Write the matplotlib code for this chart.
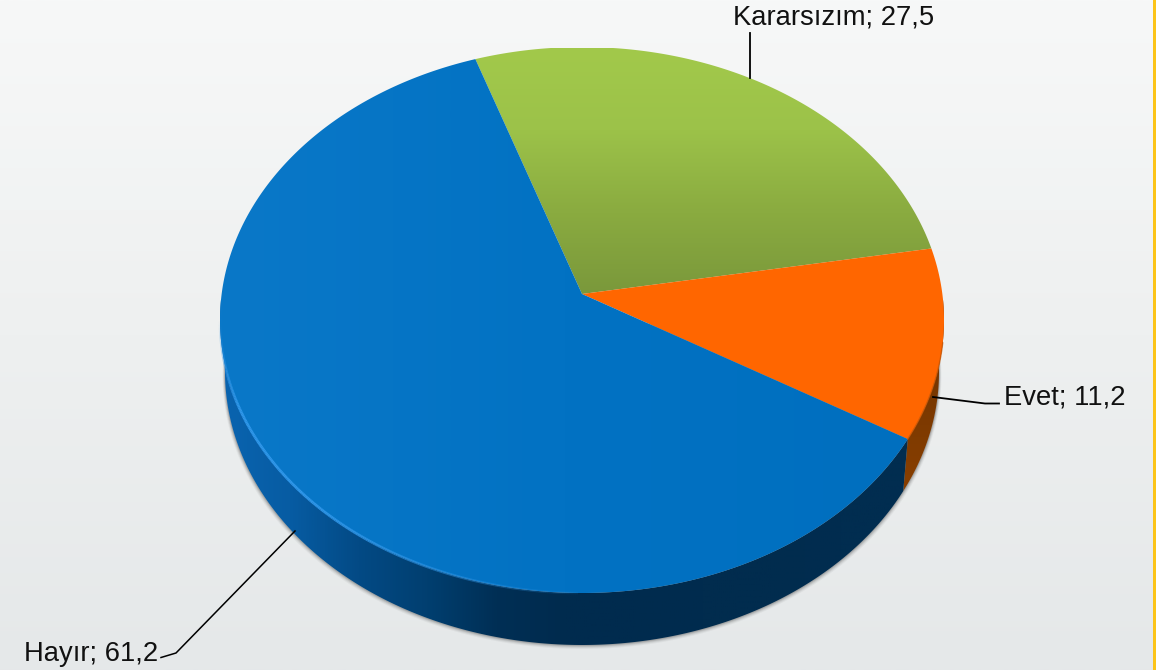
#!/usr/bin/env python

import numpy as np
import matplotlib
matplotlib.use('Agg')
import matplotlib.pyplot as plt
from matplotlib.patches import Polygon
from matplotlib.collections import LineCollection
from matplotlib.colors import LinearSegmentedColormap

plt.rcParams['font.family'] = ['Liberation Sans', 'DejaVu Sans']

# data
labels = ['Kararsızım', 'Evet', 'Hayır']
values = [27.5, 11.2, 61.2]

# pie geometry, in pixels of the picture
cx, cy = 582, 320
apex_y = 294
rx, ry = 362, 273
rx_bottom = 357
depth = 52
start_angle = -18.9


def rim(theta):
    # rim point hit by a ray leaving the apex at angle theta (degrees, clockwise from top)
    t = np.radians(theta)
    a = (cy - apex_y) / ry
    s = -a * np.cos(t) + np.sqrt(a**2 * np.cos(t)**2 - a**2 + 1)
    u = s * np.sin(t)
    v = a + s * np.cos(t)
    return u, v


def top_points(t0, t1):
    u, v = rim(np.linspace(t0, t1, 300))
    return np.column_stack([cx + rx * u, cy - ry * v])


def side_points(t0, t1):
    u, v = rim(np.linspace(t0, t1, 300))
    upper = np.column_stack([cx + rx * u, cy - ry * v])
    lower = np.column_stack([cx + rx_bottom * u, cy + depth - ry * v])
    return np.vstack([upper, lower[::-1]])


def gradient(ax, patch, colors, extent, vertical):
    # fill a patch with a gradient clipped to its outline
    ax.add_patch(patch)
    patch.set_facecolor('none')
    patch.set_edgecolor('none')
    cmap = LinearSegmentedColormap.from_list('g', colors)
    g = np.linspace(0, 1, 512)
    g = g[:, None] if vertical else g[None, :]
    im = ax.imshow(g, cmap=cmap, extent=extent, aspect='auto', origin='upper',
                   zorder=patch.get_zorder(), interpolation='bilinear')
    im.set_clip_path(patch)


fig = plt.figure(figsize=(11.61, 6.7), dpi=100, facecolor='white')
ax = fig.add_axes([0, 0, 1, 1])

# background and yellow edge
bg = LinearSegmentedColormap.from_list('bg', ['#f7f8f8', '#eef0f0', '#e5e8e9'])
ax.imshow(np.linspace(0, 1, 256)[:, None], cmap=bg, extent=(0, 1153, 670, 0),
          aspect='auto', zorder=0)
ax.axvspan(1153, 1155.5, color='#fcc419', lw=0, zorder=1)

# angles of the slices
angles = [start_angle]
for v in values:
    angles.append(angles[-1] + v / sum(values) * 360)

# soft shadow under the side
u, v = rim(np.linspace(85, 275, 400))
for off, al in [(4, 0.05), (3, 0.08), (2, 0.12), (1, 0.18)]:
    ax.add_patch(Polygon(np.column_stack([cx + (rx_bottom + off * 0.6) * u,
                                          cy + depth + off - ry * v]),
                         facecolor='#303030', edgecolor='none', alpha=al, zorder=2))

# side of the orange and blue slices
gradient(ax, Polygon(side_points(angles[1] + 2, angles[2]), zorder=3),
         ['#8a4000', '#7a3800', '#6a3000'], (900, 945, 300, 500), True)
gradient(ax, Polygon(side_points(angles[2], 270), zorder=3),
         ['#0a64b0', '#075ca3', '#034a85', '#013f70', '#002f55', '#002b4e',
          '#002b4e', '#012c4e', '#012c4e', '#012d50', '#012d50'],
         (220, 910, 670, 300), False)

# top faces
apex = np.array([[cx, apex_y]])
faces = [top_points(angles[i], angles[i + 1]) for i in range(3)]
gradient(ax, Polygon(np.vstack([apex, faces[0]]), zorder=4),
         ['#a2c94b', '#9cc249', '#8aab40', '#7a983b'], (470, 935, 295, 48), True)
ax.add_patch(Polygon(np.vstack([apex, faces[1]]), facecolor='#ff6600', edgecolor='none', zorder=4))
gradient(ax, Polygon(np.vstack([apex, faces[2]]), zorder=4),
         ['#0a78c8', '#0272c3', '#006fbf'], (220, 910, 600, 40), False)

# light edge along the front of the rim
pts = top_points(angles[2] + 60, 272)[::-1]
segs = np.stack([pts[:-1], pts[1:]], axis=1)
fade = np.clip((600 - pts[:-1, 0]) / 300, 0, 1) * np.clip((pts[:-1, 1] - 320) / 90, 0, 1)
rgba = np.zeros((len(segs), 4))
rgba[:] = matplotlib.colors.to_rgba('#2f97ea')
rgba[:, 3] = fade
ax.add_collection(LineCollection(segs, colors=rgba, linewidths=2.0, zorder=5))

# dark line on the orange edge
ax.plot(*top_points(angles[1] + 20, angles[2]).T, color='#c85400', lw=1, alpha=0.7, zorder=5)

# leader lines
ax.plot([750, 750], [33, 78], color='black', lw=1.3, zorder=6)
ax.plot([933, 985, 999], [397, 403.5, 403.5], color='black', lw=1.3, zorder=6)
ax.plot([295, 176, 161], [531, 653, 657.5], color='black', lw=1.1, zorder=6)

# data labels
txt = [f'{n}; {str(x).replace(".", ",")}' for n, x in zip(labels, values)]
ax.text(834, 18, txt[0], ha='center', va='center', fontsize=19.7, color='#111111', zorder=7)
ax.text(1004, 398, txt[1], ha='left', va='center', fontsize=19.7, color='#111111', zorder=7)
ax.text(24, 654, txt[2], ha='left', va='center', fontsize=19.7, color='#111111', zorder=7)

ax.set_xlim(0, 1161)
ax.set_ylim(670, 0)
ax.axis('off')

plt.savefig('out.png', dpi=100)
